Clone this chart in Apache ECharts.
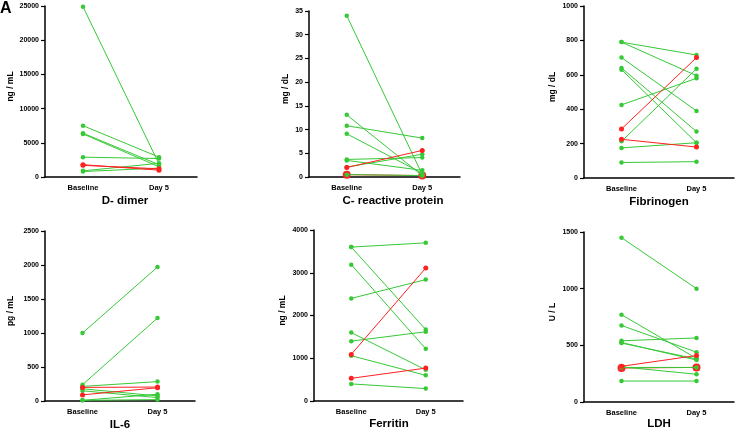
<!DOCTYPE html>
<html>
<head>
<meta charset="utf-8">
<script src="https://cdn.jsdelivr.net/npm/echarts@6/dist/echarts.min.js"></script>
<style>
  html, body { margin: 0; padding: 0; background: #fff; }
  #chart { width: 735px; height: 428px; }
</style>
</head>
<body>
<div id="chart"></div>
<script>
const categories = ['Baseline', 'Day 5'];

// D- dimer (ng / mL)
const dimerBase = [24900, 7500, 6400, 6300, 2900, 900, 800];
const dimerDay5 = [1900, 2900, 1800, 1500, 2700, 2000, 1300];
const dimerRedBase = [1800, 1700];
const dimerRedDay5 = [1000, 1200];

// C- reactive protein (mg / dL)
const crpBase = [34, 13.1, 10.8, 9.1, 3.7, 3.5, 2.1, 0.5];
const crpDay5 = [0.5, 0.3, 8.2, 0.8, 4.1, 1.4, 4.8, 0.3];
const crpRedBase = [2.0];
const crpRedDay5 = [5.6];
const crpRingBase = [0.5];
const crpRingDay5 = [0.3];

// Fibrinogen (mg / dL)
const fibBase = [790, 790, 700, 640, 630, 425, 213, 175, 90];
const fibDay5 = [715, 595, 390, 270, 205, 580, 635, 205, 95];
const fibRedBase = [285, 225];
const fibRedDay5 = [700, 180];

// IL-6 (pg / mL)
const il6Base = [1000, 240, 215, 180, 150, 10, 10];
const il6Day5 = [1970, 1220, 285, 75, 50, 100, 20];
const il6RedBase = [200, 90];
const il6RedDay5 = [205, 195];

// Ferritin (ng / mL)
const ferBase = [3600, 3600, 3190, 2400, 1600, 1400, 1060, 400];
const ferDay5 = [3700, 1670, 1220, 2840, 730, 1620, 600, 290];
const ferRedBase = [1090, 530];
const ferRedDay5 = [3110, 770];

// LDH (U / L)
const ldhBase = [1450, 770, 675, 540, 525, 520, 310, 305, 185];
const ldhDay5 = [1000, 385, 440, 565, 370, 380, 245, 305, 185];
const ldhRedBase = [315];
const ldhRedDay5 = [410];
const ldhRingBase = [300];
const ldhRingDay5 = [305];

const GREEN = '#36c936';
const RED = '#ff2020';
const FONT = 'Liberation Sans, Arial, sans-serif';

const panels = [
  { title: 'D- dimer', unit: 'ng / mL', max: 25000, step: 5000, gap: 30,
    grid: { left: 45, top: 6, width: 152, height: 171 }, tx: 125, ty: 195,
    green: [dimerBase, dimerDay5], red: [dimerRedBase, dimerRedDay5], ring: [[], []] },
  { title: 'C- reactive protein', unit: 'mg / dL', max: 35, step: 5, gap: 19,
    grid: { left: 309, top: 11, width: 151, height: 166 }, tx: 393, ty: 195,
    green: [crpBase, crpDay5], red: [crpRedBase, crpRedDay5], ring: [crpRingBase, crpRingDay5] },
  { title: 'Fibrinogen', unit: 'mg / dL', max: 1000, step: 200, gap: 27,
    grid: { left: 584, top: 6, width: 150, height: 172 }, tx: 659, ty: 196,
    green: [fibBase, fibDay5], red: [fibRedBase, fibRedDay5], ring: [[], []] },
  { title: 'IL-6', unit: 'pg / mL', max: 2500, step: 500, gap: 30,
    grid: { left: 45, top: 231, width: 150, height: 170 }, tx: 120, ty: 419,
    green: [il6Base, il6Day5], red: [il6RedBase, il6RedDay5], ring: [[], []] },
  { title: 'Ferritin', unit: 'ng / mL', max: 4000, step: 1000, gap: 27,
    grid: { left: 314, top: 230, width: 149, height: 171 }, tx: 389, ty: 418,
    green: [ferBase, ferDay5], red: [ferRedBase, ferRedDay5], ring: [[], []] },
  { title: 'LDH', unit: 'U / L', max: 1500, step: 500, gap: 27,
    grid: { left: 584, top: 232, width: 150, height: 170 }, tx: 659, ty: 418,
    green: [ldhBase, ldhDay5], red: [ldhRedBase, ldhRedDay5], ring: [ldhRingBase, ldhRingDay5] },
];

const axisLine = { lineStyle: { color: '#000', width: 1.5 } };
const axisTick = { length: 4, lineStyle: { color: '#000', width: 1.2 } };
const labelStyle = { color: '#000', fontFamily: FONT, fontWeight: 'bold' };

const grids = [], xAxes = [], yAxes = [], series = [], titles = [];

function addPairs(i, pair, color, size, z) {
  pair[0].forEach(function (b, j) {
    series.push({
      type: 'line', xAxisIndex: i, yAxisIndex: i,
      data: [b, pair[1][j]],
      symbol: 'circle', symbolSize: size, z: z,
      lineStyle: { color: color, width: 1 },
      itemStyle: { color: color },
      animation: false, silent: true
    });
  });
}

panels.forEach(function (p, i) {
  grids.push(p.grid);
  xAxes.push({
    type: 'category', gridIndex: i, data: categories, boundaryGap: true,
    axisLine: axisLine, axisTick: Object.assign({ alignWithLabel: true }, axisTick),
    axisLabel: Object.assign({ margin: 7, fontSize: 7.5 }, labelStyle)
  });
  yAxes.push({
    type: 'value', gridIndex: i, min: 0, max: p.max, interval: p.step,
    name: p.unit, nameLocation: 'middle', nameRotate: 90, nameGap: p.gap,
    nameTextStyle: { color: '#000', fontFamily: FONT, fontWeight: 'bold', fontSize: 8.5, padding: [0, 0, 0, 10] },
    axisLine: Object.assign({ show: true }, axisLine), axisTick: Object.assign({ show: true }, axisTick),
    axisLabel: Object.assign({ margin: 6, fontSize: 7, formatter: function (v) { return String(v); } }, labelStyle),
    splitLine: { show: false }
  });
  addPairs(i, p.ring, RED, 8, 1);
  addPairs(i, p.green, GREEN, 4.5, 2);
  addPairs(i, p.red, RED, 5, 3);
  titles.push({
    text: p.title, left: p.tx, top: p.ty, textAlign: 'center', padding: 0,
    textStyle: { color: '#000', fontFamily: FONT, fontWeight: 'bold', fontSize: 11.5 }
  });
});

titles.push({
  text: 'A', left: 0, top: 1, padding: 0,
  textStyle: { color: '#000', fontFamily: FONT, fontWeight: 'bold', fontSize: 16 }
});

const chart = echarts.init(document.getElementById('chart'));
chart.setOption({
  animation: false,
  backgroundColor: '#fff',
  title: titles,
  grid: grids,
  xAxis: xAxes,
  yAxis: yAxes,
  series: series
});
</script>
</body>
</html>
